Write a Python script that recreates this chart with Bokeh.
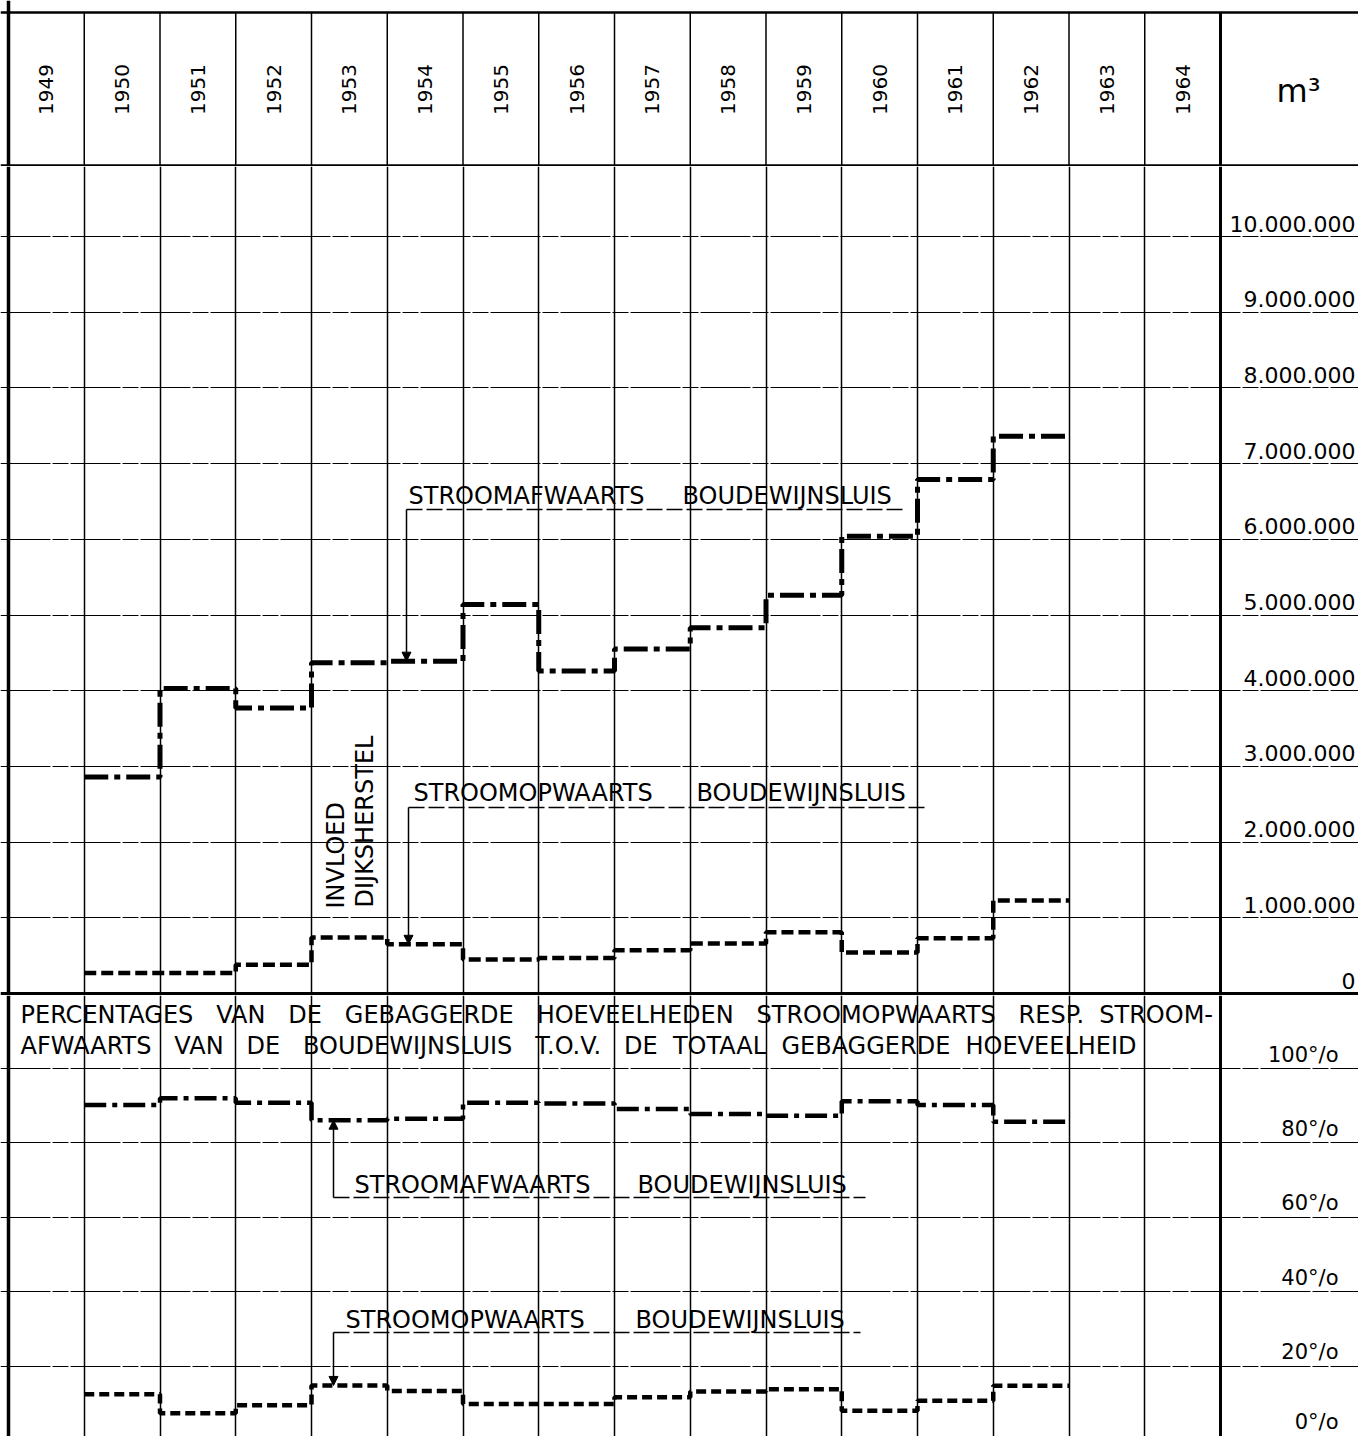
import math
from bokeh.plotting import figure
from bokeh.models import Range1d, FixedTicker, Span, Arrow, NormalHead
from bokeh.layouts import column
from bokeh.embed import file_html
from bokeh.resources import INLINE
from bokeh.core.properties import value

# ---------------- data ----------------
header_years = list(range(1949, 1965))
years = list(range(1950, 1963))
afwaarts_m3 = [2.86e6, 4.03e6, 3.77e6, 4.37e6, 4.39e6, 5.14e6, 4.26e6,
               4.55e6, 4.83e6, 5.26e6, 6.04e6, 6.79e6, 7.36e6]
opwaarts_m3 = [0.27e6, 0.27e6, 0.38e6, 0.74e6, 0.65e6, 0.45e6, 0.47e6,
               0.57e6, 0.66e6, 0.81e6, 0.54e6, 0.73e6, 1.23e6]
afwaarts_pct = [90.2, 92.0, 90.8, 86.1, 86.5, 90.8, 90.6,
                89.1, 87.8, 87.3, 91.2, 90.2, 85.7]
opwaarts_pct = [12.4, 7.3, 9.5, 14.8, 13.3, 9.8, 9.8,
                11.6, 13.2, 13.8, 8.0, 10.7, 14.7]
m3_ticks = [0, 1e6, 2e6, 3e6, 4e6, 5e6, 6e6, 7e6, 8e6, 9e6, 1e7]
m3_labels = ["0", "1.000.000", "2.000.000", "3.000.000", "4.000.000", "5.000.000",
             "6.000.000", "7.000.000", "8.000.000", "9.000.000", "10.000.000"]
pct_ticks = [0, 20, 40, 60, 80, 100]
pct_labels = ["0°/o", "20°/o", "40°/o", "60°/o", "80°/o", "100°/o"]
unit_label = "m³"
label_afw = ["STROOMAFWAARTS", "BOUDEWIJNSLUIS"]
label_opw = ["STROOMOPWAARTS", "BOUDEWIJNSLUIS"]
note_lines = ["INVLOED", "DIJKSHERSTEL"]
NB = "\u00a0"
pct_title_1 = (NB * 3).join(["PERCENTAGES", "VAN", "DE", "GEBAGGERDE", "HOEVEELHEDEN",
                             "STROOMOPWAARTS", "RESP."]) + NB * 2 + "STROOM-"
pct_title_2 = (NB * 3).join(["AFWAARTS", "VAN", "DE", "BOUDEWIJNSLUIS", "T.O.V.", "DE"]) + \
    NB * 2 + (NB * 2).join(["TOTAAL", "GEBAGGERDE", "HOEVEELHEID"])

# ---------------- layout helpers ----------------
FONT = "DejaVu Sans"
W = 1358
PXY = 75.75                      # pixels per year column
X0 = 1949 - 8 / PXY              # left border of 1949 column sits at 8 px
X1 = X0 + W / PXY
xr = Range1d(X0, X1)


def sx(px):
    return X0 + px / PXY


# header: screen 0..166
H_H = 166
def hy(py):
    return H_H - py

# top panel: screen 166..995, zero line at 993, 75.7 px per million
H_T = 829
def ty(py):
    return (993 - py) / 75.7 * 1e6

# bottom panel: screen 995..1436, 0 % at 1440, 3.72 px per percent
H_B = 441
def by(py):
    return (1440 - py) / 3.72


def make_fig(h, yr, year_grid=True):
    p = figure(width=W, height=h, x_range=xr, y_range=yr, output_backend="svg",
               toolbar_location=None, x_axis_location=None, y_axis_location=None,
               min_border=0, outline_line_color=None,
               background_fill_color="white", border_fill_color="white")
    if year_grid:
        p.xgrid.ticker = FixedTicker(ticks=header_years[1:])
        p.xgrid.grid_line_color = "black"
        p.xgrid.grid_line_width = 1.5
    else:
        p.xgrid.visible = False
    p.add_layout(Span(location=header_years[0], dimension="height",
                      line_color="black", line_width=3.5))
    return p


def ext(v):
    return list(v) + [v[-1]]


xs = years + [years[-1] + 1]
GRID_DASH = "50 2 16 2"

# ---------------- header ----------------
hdr = make_fig(H_H, Range1d(0, H_H), year_grid=False)
hdr.ygrid.visible = False
bounds = header_years[1:]
hdr.segment(x0=bounds, y0=[hy(165)] * len(bounds), x1=bounds, y1=[hy(12)] * len(bounds),
            line_color="black", line_width=1.5)
hdr.segment(x0=[header_years[-1] + 1], y0=[hy(165)], x1=[header_years[-1] + 1], y1=[hy(12)],
            line_color="black", line_width=3)
hdr.add_layout(Span(location=hy(12), dimension="width", line_color="black", line_width=2.5))
hdr.add_layout(Span(location=hy(165), dimension="width", line_color="black", line_width=2.5))
hdr.text(x=[y + 0.5 for y in header_years], y=[hy(89)] * len(header_years),
         text=[str(y) for y in header_years], angle=math.pi / 2,
         text_align="center", text_baseline="middle",
         text_font=value(FONT), text_font_size="20px", text_color="black")
hdr.text(x=[sx(1298)], y=[hy(90)], text=[unit_label], text_align="center",
         text_baseline="middle", text_font=value(FONT), text_font_size="32px",
         text_color="black")

# ---------------- top panel (m3) ----------------
top = make_fig(H_T, Range1d(ty(995), ty(166)))
top.add_layout(Span(location=header_years[-1] + 1, dimension="height",
                    line_color="black", line_width=3))
top.ygrid.ticker = FixedTicker(ticks=m3_ticks[1:])
top.ygrid.grid_line_color = "black"
top.ygrid.grid_line_width = 1.2
top.ygrid.grid_line_dash = GRID_DASH
top.add_layout(Span(location=m3_ticks[0], dimension="width", line_color="black", line_width=3))

top.text(x=[sx(1355)] * len(m3_ticks), y=[t + 13 / 75.7 * 1e6 for t in m3_ticks],
         text=m3_labels, text_align="right", text_baseline="middle",
         text_font=value(FONT), text_font_size="22px", text_color="black")

top.step(xs, ext(afwaarts_m3), mode="after", line_color="black", line_width=5,
         line_dash="24 6 6 6")
top.step(xs, ext(opwaarts_m3), mode="after", line_color="black", line_width=4.5,
         line_dash="12 5")

# annotations top panel
top.text(x=[sx(408), sx(682)], y=[ty(495)] * 2, text=label_afw, text_align="left",
         text_baseline="middle", text_font=value(FONT), text_font_size="24px",
         text_color="black")
top.line(x=[sx(406), sx(906)], y=[ty(509)] * 2, line_color="black", line_width=1.3,
         line_dash="16 4")
top.add_layout(Arrow(end=NormalHead(size=9, fill_color="black", line_color="black"),
                     x_start=sx(406), y_start=ty(509), x_end=sx(406),
                     y_end=afwaarts_m3[years.index(1954)], line_width=1.5))

top.text(x=[sx(413), sx(696)], y=[ty(792)] * 2, text=label_opw, text_align="left",
         text_baseline="middle", text_font=value(FONT), text_font_size="24px",
         text_color="black")
top.line(x=[sx(408), sx(925)], y=[ty(807)] * 2, line_color="black", line_width=1.3,
         line_dash="16 4")
top.add_layout(Arrow(end=NormalHead(size=9, fill_color="black", line_color="black"),
                     x_start=sx(408), y_start=ty(807), x_end=sx(408),
                     y_end=opwaarts_m3[years.index(1954)], line_width=1.5))

top.text(x=[sx(335), sx(364)], y=[ty(908), ty(907)], text=note_lines, angle=math.pi / 2,
         text_align="left", text_baseline="middle", text_font=value(FONT),
         text_font_size="24px", text_color="black")

# ---------------- bottom panel (%) ----------------
bot = make_fig(H_B, Range1d(by(1436), by(995)))
bot.add_layout(Span(location=header_years[-1] + 1, dimension="height",
                    line_color="black", line_width=3))
bot.ygrid.ticker = FixedTicker(ticks=pct_ticks)
bot.ygrid.grid_line_color = "black"
bot.ygrid.grid_line_width = 1.2
bot.ygrid.grid_line_dash = GRID_DASH

bot.text(x=[sx(1338)] * len(pct_ticks),
         y=[max(t + 14 / 3.72, by(1421)) for t in pct_ticks],
         text=pct_labels, text_align="right", text_baseline="middle",
         text_font=value(FONT), text_font_size="21px", text_color="black")

bot.text(x=[sx(20), sx(20)], y=[by(1014), by(1045)], text=[pct_title_1, pct_title_2],
         text_align="left", text_baseline="middle", text_font=value(FONT),
         text_font_size="24px", text_color="black")

bot.step(xs, ext(afwaarts_pct), mode="after", line_color="black", line_width=4.5,
         line_dash="22 6 5 6")
bot.step(xs, ext(opwaarts_pct), mode="after", line_color="black", line_width=4.5,
         line_dash="10 5")

bot.text(x=[sx(354), sx(637)], y=[by(1184)] * 2, text=label_afw, text_align="left",
         text_baseline="middle", text_font=value(FONT), text_font_size="24px",
         text_color="black")
bot.line(x=[sx(333), sx(865)], y=[by(1197)] * 2, line_color="black", line_width=1.3,
         line_dash="16 4")
bot.add_layout(Arrow(end=NormalHead(size=9, fill_color="black", line_color="black"),
                     x_start=sx(333), y_start=by(1197), x_end=sx(333),
                     y_end=afwaarts_pct[years.index(1953)], line_width=1.5))

bot.text(x=[sx(345), sx(635)], y=[by(1319)] * 2, text=label_opw, text_align="left",
         text_baseline="middle", text_font=value(FONT), text_font_size="24px",
         text_color="black")
bot.line(x=[sx(333), sx(860)], y=[by(1332)] * 2, line_color="black", line_width=1.3,
         line_dash="16 4")
bot.add_layout(Arrow(end=NormalHead(size=9, fill_color="black", line_color="black"),
                     x_start=sx(333), y_start=by(1332), x_end=sx(333),
                     y_end=opwaarts_pct[years.index(1953)], line_width=1.5))

layout = column(hdr, top, bot)
open("out.html", "w").write(file_html(layout, INLINE, title="Gebaggerde hoeveelheden"))
